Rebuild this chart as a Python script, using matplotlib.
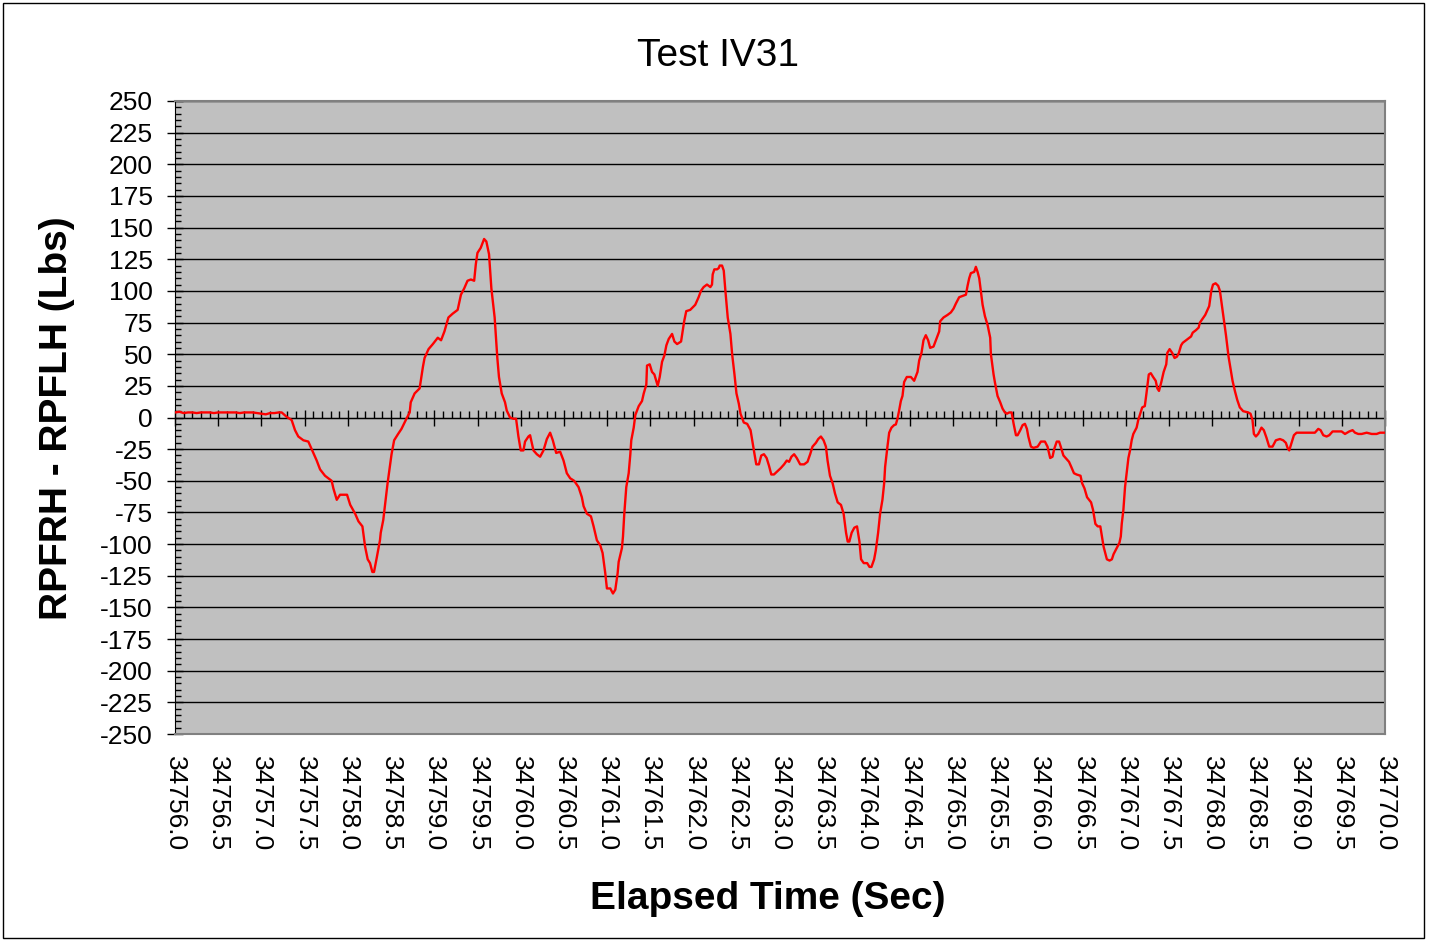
import matplotlib
matplotlib.use("Agg")
import matplotlib.pyplot as plt
from matplotlib.patches import Rectangle
from matplotlib.ticker import MultipleLocator
import numpy as np

plt.rcParams['font.family'] = ['Liberation Sans', 'DejaVu Sans']
plt.rcParams['axes.unicode_minus'] = False

# elapsed time offsets (s) from the start of the window
t0 = 34756.0
t_off = [0.00, 0.05, 0.10, 0.15, 0.20, 0.25, 0.30, 0.40, 0.45, 0.50,
         0.60, 0.70, 0.75, 0.80, 0.90, 0.95, 1.00, 1.05, 1.10, 1.15, 1.20,
         1.234, 1.292, 1.349, 1.388, 1.426, 1.485, 1.542, 1.581, 1.639, 1.678,
         1.735, 1.812, 1.832, 1.871, 1.909,
         1.95, 1.99, 2.027, 2.084, 2.122, 2.168, 2.199, 2.229, 2.256, 2.283,
         2.302, 2.333, 2.371, 2.38, 2.409, 2.428, 2.459, 2.505, 2.535, 2.581,
         2.620, 2.677, 2.715, 2.727, 2.772, 2.830, 2.868, 2.887, 2.933, 2.983,
         3.040, 3.078, 3.117, 3.163, 3.212, 3.270, 3.308, 3.346, 3.384, 3.423,
         3.461, 3.480, 3.499, 3.537, 3.576, 3.602, 3.633, 3.660, 3.698, 3.729,
         3.748,
         3.780, 3.818, 3.838, 3.876, 3.915, 3.946, 3.973, 4.000, 4.031, 4.050,
         4.089, 4.108, 4.147, 4.186, 4.224, 4.263, 4.302, 4.340, 4.371, 4.410,
         4.456, 4.495, 4.533, 4.572, 4.618, 4.669, 4.707, 4.727, 4.765, 4.812,
         4.843, 4.870, 4.881, 4.920, 4.947, 4.978, 4.997, 5.036, 5.067, 5.094,
         5.121, 5.133, 5.171, 5.183, 5.198, 5.221, 5.249, 5.268, 5.279, 5.307,
         5.326, 5.365, 5.403, 5.423, 5.453, 5.461, 5.492, 5.519, 5.546, 5.585,
         5.608, 5.635, 5.662, 5.685, 5.712, 5.751, 5.778, 5.809, 5.855,
         5.891, 5.915, 5.961, 6.019, 6.058, 6.085, 6.116, 6.155, 6.194, 6.213,
         6.221, 6.240, 6.271, 6.291, 6.302, 6.329, 6.349, 6.368, 6.395, 6.426,
         6.446, 6.473, 6.496, 6.523, 6.543, 6.581, 6.620, 6.659, 6.678, 6.705,
         6.725, 6.756, 6.783, 6.814, 6.845, 6.872, 6.899, 6.930, 6.977, 7.008,
         7.047, 7.078, 7.105, 7.132, 7.163, 7.194, 7.233, 7.279, 7.318, 7.349,
         7.376, 7.415, 7.442, 7.473, 7.504, 7.531, 7.550, 7.578, 7.609, 7.636,
         7.667, 7.705, 7.736, 7.764, 7.783, 7.802, 7.829, 7.860, 7.891, 7.919,
         7.938, 7.969, 8.008, 8.035, 8.058,
         8.089, 8.108, 8.135, 8.158, 8.185, 8.205, 8.216, 8.243, 8.263, 8.290,
         8.320, 8.340, 8.359, 8.378, 8.398, 8.417, 8.436, 8.467, 8.514, 8.552,
         8.591, 8.610, 8.637, 8.660, 8.687, 8.714, 8.737, 8.776, 8.815, 8.842,
         8.853, 8.892, 8.938, 8.977, 9.008, 9.035, 9.073, 9.112, 9.151, 9.170,
         9.189, 9.208, 9.247, 9.266, 9.286, 9.305, 9.324, 9.344, 9.371, 9.402,
         9.432, 9.440, 9.471, 9.486, 9.517, 9.548, 9.575, 9.602, 9.625, 9.653,
         9.680, 9.703, 9.730, 9.749, 9.780, 9.807, 9.834, 9.857, 9.873, 9.903,
         9.934, 9.981, 10.019,
         10.065, 10.095, 10.126, 10.153, 10.172, 10.202, 10.229, 10.248, 10.279,
         10.305, 10.344, 10.370, 10.401, 10.431, 10.477, 10.496, 10.523, 10.553,
         10.599, 10.622, 10.649, 10.676, 10.706, 10.725, 10.744, 10.763, 10.782,
         10.813, 10.840, 10.859, 10.897, 10.927, 10.943, 10.954, 10.973, 10.992,
         11.011, 11.031, 11.050, 11.069, 11.088, 11.126, 11.145, 11.172, 11.191,
         11.221, 11.240, 11.267, 11.290, 11.317, 11.347, 11.366, 11.385, 11.412,
         11.439, 11.469, 11.481, 11.508, 11.538, 11.565, 11.592, 11.615, 11.641,
         11.660, 11.679, 11.718, 11.756, 11.775, 11.813, 11.844, 11.859, 11.889,
         11.920, 11.947, 11.966,
         11.99, 12.01, 12.04, 12.07, 12.09, 12.12, 12.16, 12.19, 12.236, 12.263,
         12.290, 12.320, 12.359, 12.417, 12.444, 12.467, 12.483, 12.506, 12.533,
         12.571, 12.598, 12.629, 12.660, 12.699, 12.737, 12.784, 12.822, 12.853,
         12.873, 12.892, 12.919, 12.946, 12.977, 13.054, 13.131, 13.189, 13.228,
         13.255, 13.286, 13.324, 13.355, 13.394, 13.440, 13.498, 13.537, 13.587,
         13.625, 13.653, 13.691, 13.730, 13.788, 13.846, 13.903, 13.942, 14.0]

# RPFRH - RPFLH (Lbs)
force = [4, 4.5, 3.5, 4, 4, 3.5, 4, 4, 3.5, 4,
         4, 4, 3.5, 4, 4, 3.5, 3, 2.5, 3.5, 3.5, 4,
         4, 0.5, -2, -10, -15, -18, -19, -25, -34, -41,
         -46, -50, -56, -65, -61,
         -61, -61, -69, -76, -82, -86, -102, -112, -115, -122,
         -122, -111, -97, -91, -81, -70, -52, -29, -18, -13,
         -9, -1, 4, 12, 19, 23, 40, 47, 54, 58,
         63, 61, 68, 79, 82, 85, 97, 102, 108, 109,
         108, 121, 130, 134, 141, 139, 129, 102, 79, 47,
         32,
         19, 12, 5.5, 0, -1, -1, -15, -26, -26, -19,
         -15, -14, -26, -29, -31, -26, -17, -12, -18, -28,
         -27, -34, -44, -48, -50, -55, -63, -70, -76, -78,
         -86, -94, -97, -101, -107, -123, -135, -135, -139, -136,
         -123, -114, -103, -94, -76, -55, -44, -29, -18, -8,
         2, 9, 13, 19, 26, 41, 42, 36, 34, 25,
         32, 44, 49, 57, 62, 66, 60, 58, 60,
         76, 84, 85, 89, 95, 100, 103, 105, 103, 105,
         113, 117, 117, 118, 120, 120, 116, 100, 79, 66,
         50, 34, 19, 11, 3, -4, -5, -10, -18, -29,
         -37, -37, -30, -29, -32, -38, -45, -45, -42, -40,
         -37, -34, -35, -31, -29, -32, -37, -37, -35, -29,
         -23, -20, -17, -15, -18, -23, -34, -46, -52, -60,
         -67, -69, -76, -91, -98, -98, -91, -87, -86, -98,
         -112, -115, -115, -118, -118,
         -112, -105, -91, -76, -65, -52, -39, -23, -12, -8,
         -6, -5.5, -1, 5.5, 13, 17, 28, 32, 32, 29,
         36, 45, 51, 61, 65, 61, 55, 56, 63, 68,
         76, 79, 81, 83, 86, 90, 95, 96, 97, 104,
         110, 114, 115, 119, 115, 110, 100, 89, 80, 73,
         63, 50, 34, 28, 17, 12, 7, 4, 3, 4,
         4, -5, -14, -14, -10, -6, -5, -9, -15, -23,
         -24, -23, -19,
         -19, -23, -32, -31, -25, -19, -19, -23, -30,
         -32, -35, -39, -44, -45, -46, -52, -56, -63,
         -67, -73, -84, -86, -86, -94, -102, -107, -112,
         -113, -112, -108, -103, -99, -94, -84, -73, -55,
         -44, -32, -26, -18, -13, -8, -2, 4, 8,
         9, 19, 34, 35, 32, 29, 23, 21, 28,
         36, 42, 51, 54, 51, 47, 48, 51, 57,
         59, 60, 62, 64, 67, 69, 71, 75, 78,
         81, 85, 88,
         100, 105, 106, 104, 100, 85, 65, 48, 29, 21,
         14, 8, 5, 4, 3, -2, -13, -15, -13,
         -8, -10, -16, -23, -23, -18, -17, -18, -20,
         -24, -26, -20, -14, -12, -12, -12, -12, -9,
         -10, -14, -15, -14, -11, -11, -11, -13, -11,
         -10, -12, -13, -13, -12, -13, -13, -12, -12]

t = t0 + np.array(t_off)

fig = plt.figure(figsize=(14.29, 9.40), dpi=100)
ax = fig.add_axes([0.1225, 0.2191, 0.8467, 0.6735])
ax.set_facecolor('#C0C0C0')

ax.plot(t, force, color='#FF0000', lw=1.7, zorder=3)

ax.set_xlim(t0, t0 + 14)
ax.set_ylim(-250, 250)

# y axis
ax.set_yticks(np.arange(-250, 251, 25))
ax.yaxis.set_minor_locator(MultipleLocator(5))
ax.tick_params(axis='y', which='major', direction='inout', length=12, width=1,
               labelsize=19, pad=10)
ax.tick_params(axis='y', which='minor', direction='in', length=4, width=1)
ax.yaxis.grid(True, which='major', color='black', lw=1)
ax.set_axisbelow(True)

# x labels at the bottom, ticks sit on the zero line
xt = np.arange(t0, t0 + 14.01, 0.5)
ax.set_xticks(xt)
ax.set_xticklabels(['%.1f' % v for v in xt], rotation=-90, va='top', ha='center')
ax.tick_params(axis='x', which='both', length=0, labelsize=19, pad=16)

sec = ax.secondary_xaxis(0.5)
sec.set_xticks(xt)
sec.xaxis.set_minor_locator(MultipleLocator(0.1))
sec.tick_params(axis='x', which='major', direction='inout', length=12, width=1,
                labeltop=False, labelbottom=False)
sec.tick_params(axis='x', which='minor', direction='out', length=5, width=1)
sec.spines['top'].set_color('black')
sec.spines['bottom'].set_visible(False)

for side in ['top', 'right', 'bottom']:
    ax.spines[side].set_color('#808080')
    ax.spines[side].set_linewidth(1.5)
ax.spines['left'].set_color('black')

fig.text(0.5025, 0.940, 'Test IV31', ha='center', va='center', fontsize=28)
fig.text(0.5375, 0.0435, 'Elapsed Time (Sec)', ha='center', va='center',
         fontsize=28, fontweight='bold')
fig.text(0.040, 0.555, 'RPFRH - RPFLH (Lbs)', ha='center', va='center',
         rotation=90, fontsize=28, fontweight='bold')

fig.patches.append(Rectangle((0.0021, 0.002), 0.9944, 0.9948, transform=fig.transFigure,
                             fill=False, edgecolor='black', lw=1))

fig.savefig('out.png', dpi=100)
